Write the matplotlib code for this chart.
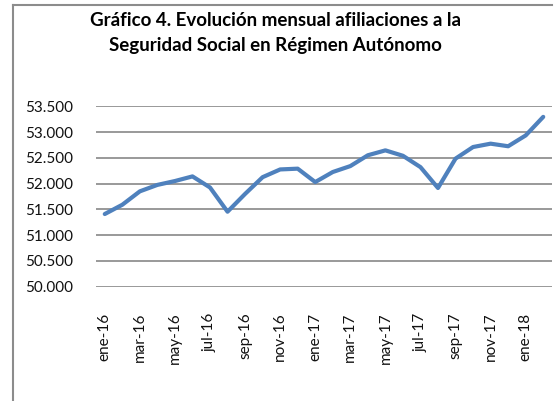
import matplotlib
matplotlib.use("Agg")
import matplotlib.pyplot as plt
from matplotlib.lines import Line2D

# monthly affiliations, ene-16 .. feb-18
months = ["ene-16", "feb-16", "mar-16", "abr-16", "may-16", "jun-16", "jul-16", "ago-16",
          "sep-16", "oct-16", "nov-16", "dic-16", "ene-17", "feb-17", "mar-17", "abr-17",
          "may-17", "jun-17", "jul-17", "ago-17", "sep-17", "oct-17", "nov-17", "dic-17",
          "ene-18", "feb-18"]
afiliados = [51410, 51590, 51850, 51975, 52050, 52140, 51925, 51455,
             51800, 52125, 52275, 52290, 52030, 52225, 52340, 52550,
             52645, 52540, 52320, 51915, 52485, 52710, 52775, 52725,
             52935, 53295]
yticks = [50000, 50500, 51000, 51500, 52000, 52500, 53000, 53500]

plt.rcParams['font.family'] = ['Lato', 'DejaVu Sans']

fig = plt.figure(figsize=(5.56, 4.01), dpi=100)
ax = fig.add_axes([96/556, 1 - 286.7/401, (552-96)/556, (286.7-106.3)/401])

x = list(range(len(months)))
ax.plot(x, afiliados, color='#4F81BD', lw=3.0, solid_joinstyle='round', solid_capstyle='round', zorder=3)

ax.set_xlim(-0.5, len(months) - 0.5)
ax.set_ylim(yticks[0], yticks[-1])
ax.set_yticks(yticks)
ax.set_yticklabels([f"{v:,}".replace(",", ".") for v in yticks], fontsize=11, color='#111111')
ax.set_xticks(x[::2])
ax.set_xticklabels(months[::2], rotation=90, fontsize=11, color='#111111', va='top')
ax.tick_params(axis='x', length=0, pad=18.5)
ax.tick_params(axis='y', length=0, pad=16.5)
ax.grid(axis='y', color='#888888', lw=1.2)
ax.set_axisbelow(True)
for s in ax.spines.values():
    s.set_visible(False)

fig.text(275/556, 1 - 20/401, "Gráfico 4. Evolución mensual afiliaciones a la",
         ha='center', va='center', fontsize=13.5, fontweight='bold')
fig.text(275/556, 1 - 45/401, "Seguridad Social en Régimen Autónomo",
         ha='center', va='center', fontsize=13.5, fontweight='bold')

# chart frame (only top and left edges are in the crop)
fig.add_artist(Line2D([13/556, 13/556], [0, 1 - 5/401], color='#8c8c8c', lw=1.5))
fig.add_artist(Line2D([13/556, 552/556], [1 - 5/401, 1 - 5/401], color='#8c8c8c', lw=1.5))

fig.savefig("out.png", dpi=100)
